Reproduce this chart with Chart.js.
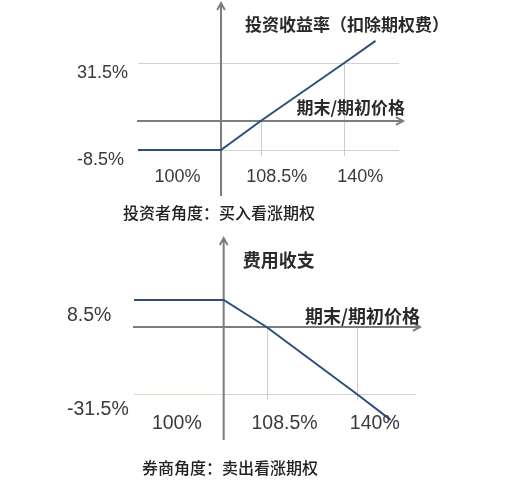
<!DOCTYPE html>
<html>
<head>
<meta charset="utf-8">
<script src="https://cdn.jsdelivr.net/npm/chart.js@4.4.1/dist/chart.umd.min.js"></script>
<style>
  html, body { margin: 0; padding: 0; background: #fff; }
  #wrap { position: relative; width: 510px; height: 500px; }
  canvas { position: absolute; left: 0; }
  .caption { position: absolute; font-family: 'Noto Sans CJK SC', sans-serif; font-size: 16px; font-weight: 500;
             color: #222; line-height: 20px; white-space: nowrap; }
</style>
</head>
<body>
<div id="wrap">
  <canvas id="buyer" width="510" height="230" style="top:0"></canvas>
  <canvas id="seller" width="510" height="270" style="top:230px"></canvas>
  <div class="caption" style="left:123px;top:202px">投资者角度：买入看涨期权</div>
  <div class="caption" style="left:142px;top:457px">券商角度：卖出看涨期权</div>
</div>
<script>
// 期末/期初价格 (%) at the corners of the payoff line, and the payoff (%) there
var priceRatio   = [82, 100, 108.5, 140, 152];
var buyerReturn  = [-8.5, -8.5, 0, 31.5, 43.5];
var sellerReturn = [8.5, 8.5, 0, -31.5, -43.5];

var priceTicks  = [100, 108.5, 140];
var buyerTicks  = [31.5, -8.5];
var sellerTicks = [8.5, -31.5];

var buyerTitle  = '投资收益率（扣除期权费）';
var sellerTitle = '费用收支';
var priceTitle  = '期末/期初价格';

var LINE = '#2e4d7f', AXIS = '#7d7d7d', GRID = '#d3d3d3', DROP = '#cdcdcd', TEXT = '#3a3a3a';
var NUM_FONT = "'Liberation Sans', Arial, sans-serif";
var CJK_FONT = "'Noto Sans CJK SC', sans-serif";

// the diagram is schematic: each stretch of an axis gets its own spacing
class PiecewiseScale extends Chart.LinearScale {
  _toDecimal(v) {
    var vs = this.options.stopValues, fs = this.options.stopFracs, i = 1;
    while (i < vs.length - 1 && v > vs[i]) i++;
    return fs[i - 1] + (v - vs[i - 1]) * (fs[i] - fs[i - 1]) / (vs[i] - vs[i - 1]);
  }
  getPixelForValue(v) {
    return this.getPixelForDecimal(this._toDecimal(v));
  }
  getValueForPixel(px) {
    var d = this.getDecimalForPixel(px), vs = this.options.stopValues, fs = this.options.stopFracs, i = 1;
    while (i < fs.length - 1 && d > fs[i]) i++;
    return vs[i - 1] + (d - fs[i - 1]) * (vs[i] - vs[i - 1]) / (fs[i] - fs[i - 1]);
  }
}
PiecewiseScale.id = 'piecewise';
PiecewiseScale.defaults = Chart.LinearScale.defaults;
Chart.register(PiecewiseScale);

function arrow(ctx, x0, y0, x1, y1) {
  var ang = Math.atan2(y1 - y0, x1 - x0);
  ctx.beginPath();
  ctx.moveTo(x0, y0);
  ctx.lineTo(x1, y1);
  ctx.moveTo(x1 - 8 * Math.cos(ang - 0.5), y1 - 8 * Math.sin(ang - 0.5));
  ctx.lineTo(x1, y1);
  ctx.lineTo(x1 - 8 * Math.cos(ang + 0.5), y1 - 8 * Math.sin(ang + 0.5));
  ctx.stroke();
}

function hline(ctx, x0, x1, y, color) {
  ctx.strokeStyle = color;
  ctx.beginPath();
  ctx.moveTo(x0, y);
  ctx.lineTo(x1, y);
  ctx.stroke();
}

var payoffAxes = {
  id: 'payoffAxes',
  beforeDatasetsDraw: function (chart, args, o) {
    var ctx = chart.ctx, a = chart.chartArea, xs = chart.scales.x, ys = chart.scales.y;
    var ox = xs.getPixelForValue(o.origin), oy = ys.getPixelForValue(0);
    var pts = chart.data.datasets[0].data;
    ctx.save();
    ctx.lineWidth = 1;
    // horizontal grid lines at the chosen payoff levels
    o.gridValues.forEach(function (v) {
      var py = Math.round(ys.getPixelForValue(v)) + 0.5;
      hline(ctx, a.left, ox, py, o.gridLeft || GRID);
      hline(ctx, ox, a.right, py, GRID);
    });
    // drop lines from the payoff line (or the axis, if higher) to the bottom
    ctx.strokeStyle = DROP;
    priceTicks.forEach(function (v) {
      if (v === o.origin) return;
      var p = pts.find(function (d) { return d.x === v; });
      var px = Math.round(xs.getPixelForValue(v)) + 0.5;
      ctx.beginPath();
      ctx.moveTo(px, ys.getPixelForValue(Math.max(p.y, 0)));
      ctx.lineTo(px, a.bottom);
      ctx.stroke();
    });
    ctx.strokeStyle = AXIS;
    ctx.lineWidth = 2;
    arrow(ctx, a.left - 1, oy, a.right + 4, oy);
    arrow(ctx, ox, a.bottom + 40, ox, o.tipY);
    ctx.restore();
  },
  afterDraw: function (chart, args, o) {
    var ctx = chart.ctx, a = chart.chartArea, xs = chart.scales.x, ys = chart.scales.y;
    var ox = xs.getPixelForValue(o.origin), oy = ys.getPixelForValue(0);
    ctx.save();
    ctx.fillStyle = TEXT;
    ctx.textBaseline = 'middle';
    ctx.textAlign = 'center';
    ctx.font = o.numSize + 'px ' + NUM_FONT;
    priceTicks.forEach(function (v) {
      var cx = v === o.origin ? (a.left + ox) / 2 - 2 : xs.getPixelForValue(v) + o.labelShift;
      ctx.fillText(v + '%', cx, a.bottom + o.labelGap);
    });
    ctx.fillStyle = '#2a2a2a';
    ctx.font = 'bold ' + o.titleSize + 'px ' + CJK_FONT;
    ctx.textAlign = 'left';
    ctx.fillText(o.yTitle, ox + o.yTitleDx, o.yTitleY);
    ctx.textAlign = 'right';
    ctx.fillText(priceTitle, a.right + o.xTitleDx, oy + o.xTitleDy);
    ctx.restore();
  }
};

function makeChart(id, c) {
  return new Chart(document.getElementById(id), {
    type: 'line',
    data: {
      datasets: [{
        data: priceRatio.map(function (x, i) { return { x: x, y: c.values[i] }; }),
        borderColor: LINE,
        borderWidth: 2,
        pointRadius: 0,
        tension: 0,
        clip: false
      }]
    },
    options: {
      responsive: false,
      animation: false,
      layout: { padding: c.padding },
      plugins: {
        legend: { display: false },
        tooltip: { enabled: false },
        payoffAxes: c.axes
      },
      scales: {
        x: {
          type: 'piecewise',
          display: false,
          min: 82, max: 161,
          stopValues: [82, 100, 108.5, 140, 161],
          stopFracs: [0, 0.318, 0.47, 0.79, 1]
        },
        y: {
          type: 'piecewise',
          min: c.yStops[0], max: c.yStops[c.yStops.length - 1],
          stopValues: c.yStops,
          stopFracs: c.yFracs,
          afterFit: function (s) { s.width = c.yWidth; },
          afterBuildTicks: function (s) { s.ticks = c.ticks.map(function (v) { return { value: v }; }); },
          border: { display: false },
          grid: { display: false },
          ticks: {
            crossAlign: 'far',
            padding: 0,
            labelOffset: c.labelOffset,
            color: TEXT,
            font: { family: NUM_FONT, size: c.numSize },
            callback: function (v) { return v + '%'; }
          }
        }
      }
    },
    plugins: [payoffAxes]
  });
}

makeChart('buyer', {
  values: buyerReturn,
  ticks: buyerTicks,
  padding: { left: 77, right: 111, top: 30, bottom: 74 },
  yWidth: 61,
  yStops: [-10.3, -8.5, 0, 31.5, 49.4],
  yFracs: [0, 0.048, 0.278, 0.738, 1],
  labelOffset: 10,
  numSize: 18,
  axes: { origin: 100, gridValues: buyerTicks, tipY: 3, labelShift: 16, labelGap: 21, numSize: 18, titleSize: 17,
          yTitle: buyerTitle, yTitleDx: 24, yTitleY: 25, xTitleDx: 6, xTitleDy: -13 }
});

makeChart('seller', {
  values: sellerReturn,
  ticks: sellerTicks,
  padding: { left: 67, right: 94, top: 58, bottom: 100 },
  yWidth: 67,
  yStops: [-34.3, -31.5, 0, 8.5, 12.3],
  yFracs: [0, 0.054, 0.652, 0.893, 1],
  labelOffset: 16,
  numSize: 19.5,
  axes: { origin: 100, gridValues: sellerTicks.filter(function (v) { return v < 0; }), gridLeft: '#dcdfbf',
          tipY: 8, labelShift: 18, labelGap: 24, numSize: 19.5, titleSize: 18,
          yTitle: sellerTitle, yTitleDx: 19, yTitleY: 30, xTitleDx: 4, xTitleDy: -11 }
});
</script>
</body>
</html>
